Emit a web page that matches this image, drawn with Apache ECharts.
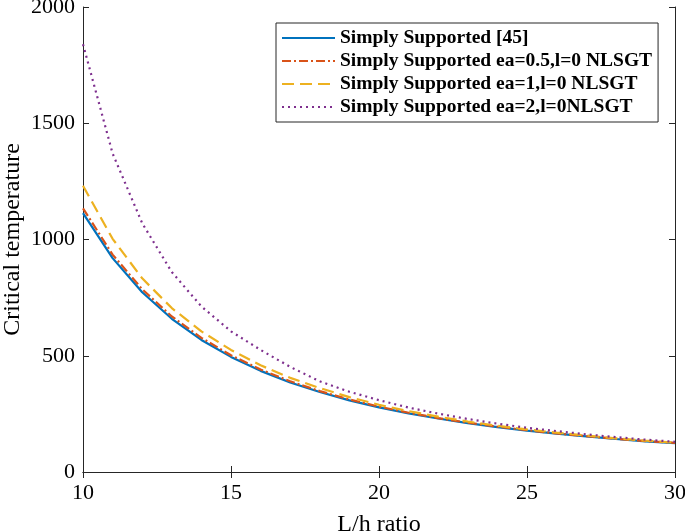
<!DOCTYPE html>
<html><head><meta charset="utf-8">
<script src="https://cdn.jsdelivr.net/npm/echarts@6/dist/echarts.min.js"></script>
<style>html,body{margin:0;padding:0;background:#fff}#c{width:685px;height:532px}</style>
</head><body><div id="c"></div>
<script>
const lengthRatio = [10,11,12,13,14,15,16,17,18,19,20,21,22,23,24,25,26,27,28,29,30];
const simplySupported45 = [1113,920,773,659,568,495,435,385,344,308,278,252,230,210,193,178,165,153,142,132,124];
const ea05 = [1134,935,786,669,577,502,441,390,348,312,281,255,232,212,195,180,166,154,143,133,125];
const ea1 = [1231,1003,833,705,605,525,459,405,361,322,289,262,238,217,199,183,169,157,145,135,126];
const ea2 = [1840,1370,1070,860,712,605,525,452,390,345,309,277,251,228,208,190,176,162,150,139,130];
const seriesNames = ['Simply Supported [45]','Simply Supported ea=0.5,l=0 NLSGT','Simply Supported ea=1,l=0 NLSGT','Simply Supported ea=2,l=0NLSGT'];
const xTitle = 'L/h ratio';
const yTitle = 'Critical temperature';

const font = 'Liberation Serif';
const pair = arr => lengthRatio.map((x,i)=>[x,arr[i]]);
const axisLine = {show:true, lineStyle:{color:'#262626', width:1}};
const tick = {show:true, inside:true, length:6, lineStyle:{color:'#262626'}};
const mk = (name, data, color, type, w) => ({
  name, type:'line', data:pair(data), symbol:'none', showSymbol:false, z: 3,
  lineStyle:{color, width:w, type}, itemStyle:{color}
});
const chart = echarts.init(document.getElementById('c'));
chart.setOption({
  animation:false,
  backgroundColor:'#fff',
  grid:{left:83, right:10, top:7, bottom:60, containLabel:false, outerBoundsMode:'none'},
  legend:{
    orient:'vertical', left:276, top:23, padding:[5,6,5,5], itemGap:3,
    itemWidth:53, itemHeight:12, backgroundColor:'#fff', borderColor:'#262626', borderWidth:1,
    itemStyle:{opacity:0},
    textStyle:{fontFamily:font, fontWeight:'bold', fontSize:19.5, color:'#000', lineHeight:19.5},
    data:seriesNames
  },
  xAxis:[{
    type:'value', min:10, max:30, interval:5, position:'bottom',
    name:xTitle, nameLocation:'middle', nameGap:41,
    nameTextStyle:{fontFamily:font, fontSize:24, color:'#000'},
    axisLine, axisTick:tick,
    axisLabel:{fontFamily:font, fontSize:22, color:'#000', margin:10, formatter:v=>String(v)},
    splitLine:{show:false}
  },{
    type:'value', min:10, max:30, interval:5, position:'top',
    axisLine, axisTick:tick, axisLabel:{show:false}, splitLine:{show:false}
  }],
  yAxis:[{
    type:'value', min:0, max:2000, interval:500, position:'left',
    name:yTitle, nameLocation:'middle', nameGap:58, nameMoveOverlap:false,
    nameTextStyle:{fontFamily:font, fontSize:24, color:'#000'},
    axisLine, axisTick:tick,
    axisLabel:{fontFamily:font, fontSize:22, color:'#000', margin:8, formatter:v=>String(v)},
    splitLine:{show:false}
  },{
    type:'value', min:0, max:2000, interval:500, position:'right',
    axisLine, axisTick:tick, axisLabel:{show:false}, splitLine:{show:false}
  }],
  series:[
    mk(seriesNames[0], simplySupported45, '#0072BD', 'solid', 2.2),
    mk(seriesNames[1], ea05, '#D95319', [9,3,2,3], 2.2),
    mk(seriesNames[2], ea1, '#EDB120', [12,6], 2.2),
    mk(seriesNames[3], ea2, '#7E2F8E', [2,4], 2.2)
  ]
});
</script></body></html>
